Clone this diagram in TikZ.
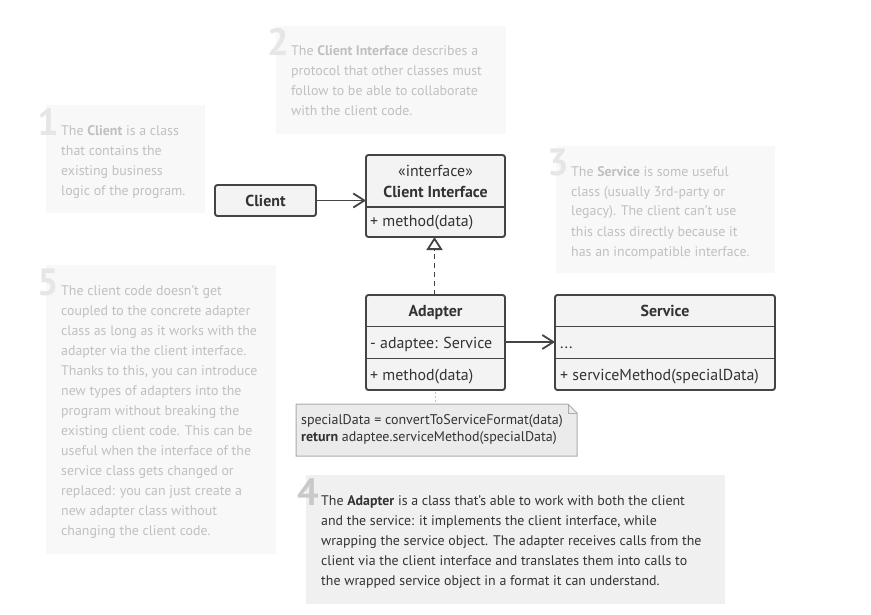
\documentclass[tikz,border=0pt]{standalone}
\usepackage{fontspec}
\setmainfont{PT Sans}
\usetikzlibrary{arrows.meta}

\definecolor{ink}{HTML}{333333}
\definecolor{edge}{HTML}{444444}
\definecolor{boxfill}{HTML}{F3F3F3}
\definecolor{notebg}{HTML}{F8F8F8}
\definecolor{notefg}{HTML}{C0C0C0}
\definecolor{notenum}{HTML}{E6E6E6}
\definecolor{hotbg}{HTML}{F0F0F0}
\definecolor{hotnum}{HTML}{C9C9C9}
\definecolor{codebg}{HTML}{EBEBEB}
\definecolor{codeedge}{HTML}{ABABAB}

% multi-line text nodes are anchored at the baseline of their last line
\tikzset{
  notebox/.style={fill=notebg, draw=none},
  hotbox/.style={fill=hotbg, draw=none},
  notetext/.style={anchor=base west, inner sep=0pt, align=left, text=notefg,
    font=\fontsize{13.9}{20}\selectfont},
  hottext/.style={notetext, text=ink},
  numtag/.style={anchor=base east, inner sep=0pt, text=notenum,
    font=\fontsize{38}{38}\selectfont\bfseries},
  hotnumtag/.style={numtag, text=hotnum},
  classbox/.style={draw=edge, fill=boxfill, line width=1.9pt, rounded corners=2.5pt},
  divider/.style={draw=edge, line width=1.9pt},
  title/.style={anchor=base, inner sep=0pt, text=ink, font=\fontsize{15.9}{17}\selectfont\bfseries},
  member/.style={anchor=base west, inner sep=0pt, text=ink, font=\fontsize{15.9}{17}\selectfont},
  stereo/.style={anchor=base, inner sep=0pt, text=ink, font=\fontsize{15.9}{17}\selectfont},
  assoc/.style={draw=edge, line width=1.8pt, -{Straight Barb[length=11pt,width=14pt,line width=1.8pt]}},
  realize/.style={draw=edge, line width=1.8pt, dash pattern=on 5pt off 4pt,
    -{Triangle[open,length=13pt,width=16pt,line width=1.8pt]}},
  codetext/.style={anchor=base west, inner sep=0pt, align=left, text=ink,
    font=\fontsize{14}{16.5}\selectfont},
}

\begin{document}
\begin{tikzpicture}[x=1pt,y=-1pt]
\useasboundingbox (0,0) rectangle (871,615);
\fill[white] (0,0) rectangle (871,615);

% ---- explanatory notes ----
\fill[notebox] (46,105) rectangle (205,213);
\node[numtag] (n1) at (59,135.5) {1};
\node[notetext] (t1) at (61,195.5) {The \textbf{Client} is a class\\that contains the\\existing business\\logic of the program.};

\fill[notebox] (276,26) rectangle (506,134);
\node[numtag] (n2) at (289,56) {2};
\node[notetext] (t2) at (291,116) {The \textbf{Client Interface} describes a\\protocol that other classes must\\follow to be able to collaborate\\with the client code.};

\fill[notebox] (556,146) rectangle (775,273);
\node[numtag] (n3) at (569,176) {3};
\node[notetext] (t3) at (571,256) {The \textbf{Service} is some useful\\class (usually 3rd-party or\\legacy). The client can’t use\\this class directly because it\\has an incompatible interface.};

\fill[notebox] (46,265) rectangle (276,554);
\node[numtag] (n5) at (59,295) {5};
\node[notetext] (t5) at (61,535) {The client code doesn’t get\\coupled to the concrete adapter\\class as long as it works with the\\adapter via the client interface.\\Thanks to this, you can introduce\\new types of adapters into the\\program without breaking the\\existing client code. This can be\\useful when the interface of the\\service class gets changed or\\replaced: you can just create a\\new adapter class without\\changing the client code.};

\fill[hotbox] (306,475) rectangle (725,604);
\node[hotnumtag] (n4) at (319,505) {4};
\node[hottext] (t4) at (321,585) {The \textbf{Adapter} is a class that’s able to work with both the client\\and the service: it implements the client interface, while\\wrapping the service object. The adapter receives calls from the\\client via the client interface and translates them into calls to\\the wrapped service object in a format it can understand.};

% ---- Client ----
\path[classbox] (215,185) rectangle (316,216);
\coordinate (clientE) at (316,200.5);
\node[title] (clientT) at (265.5,206.5) {Client};

% ---- Client Interface ----
\path[classbox] (366,155) rectangle (505,237);
\draw[divider] (366,207) -- (505,207);
\coordinate (ifaceW) at (366,200.5);
\coordinate (ifaceS) at (434.5,237);
\node[stereo] (ifaceS1) at (435.5,177) {«interface»};
\node[title] (ifaceT) at (435.5,197) {Client Interface};
\node[member] (ifaceM) at (370,226.5) {+ method(data)};

% ---- Adapter ----
\path[classbox] (366,295) rectangle (505,390);
\draw[divider] (366,326.5) -- (505,326.5);
\draw[divider] (366,358.5) -- (505,358.5);
\coordinate (adapterN) at (434.5,295);
\coordinate (adapterE) at (505,342);
\coordinate (adapterS) at (435.5,392);
\node[title] (adapterT) at (435.5,316) {Adapter};
\node[member] (adapterA) at (370,348) {- adaptee: Service};
\node[member] (adapterM) at (370,380.5) {+ method(data)};

% ---- Service ----
\path[classbox] (555,295) rectangle (775,390);
\draw[divider] (555,326.5) -- (775,326.5);
\draw[divider] (555,358.5) -- (775,358.5);
\coordinate (serviceW) at (555,342);
\node[title] (serviceT) at (665,316) {Service};
\node[member] (serviceA) at (560,348) {...};
\node[member] (serviceM) at (560,380.5) {+ serviceMethod(specialData)};

% ---- code note ----
\path[fill=codebg, draw=codeedge, line width=1pt]
  (296,404) -- (568,404) -- (577,413) -- (577,456) -- (296,456) -- cycle;
\draw[codeedge, line width=1pt] (568,404) -- (568,413) -- (577,413);
\coordinate (codeN) at (435.5,404);
\node[codetext] (code) at (301,441) {specialData = convertToServiceFormat(data)\\\textbf{return} adaptee.serviceMethod(specialData)};

% ---- connectors ----
\draw[assoc] (clientE) -- (ifaceW);
\draw[realize] (adapterN) -- (ifaceS);
\draw[assoc] (adapterE) -- (serviceW);
\draw[codeedge!70, line width=1pt, dash pattern=on 2pt off 2pt] (adapterS) -- (codeN);
\end{tikzpicture}
\end{document}
